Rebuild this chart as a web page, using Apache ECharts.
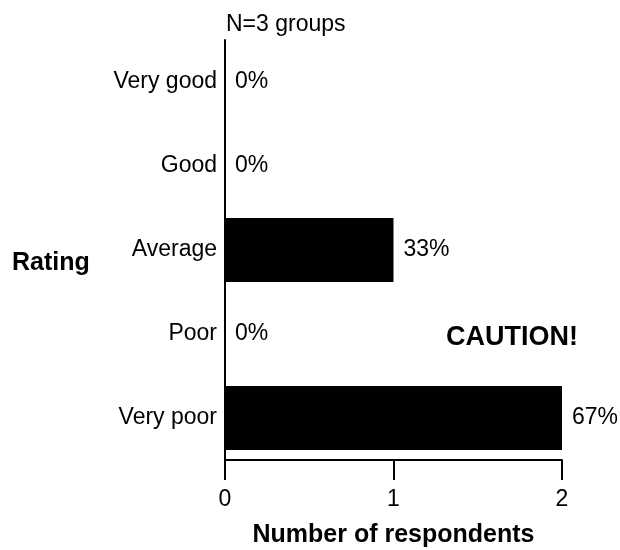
<!DOCTYPE html>
<html>
<head>
<meta charset="utf-8">
<script src="https://cdn.jsdelivr.net/npm/echarts@6/dist/echarts.min.js"></script>
<style>html,body{margin:0;padding:0;background:#fff;}#c{width:620px;height:550px;}</style>
</head>
<body>
<div id="c"></div>
<script>
// Categories listed bottom to top (ECharts category y-axis order)
const categories = ['Very poor', 'Poor', 'Average', 'Good', 'Very good'];
const counts = [2, 0, 1, 0, 0];
const percentLabels = ['67%', '0%', '33%', '0%', '0%'];
const xTicks = [0, 1, 2];
const noteText = 'N=3 groups';
const cautionText = 'CAUTION!';
const FONT = 'Liberation Sans, Arial, Helvetica, sans-serif';

const chart = echarts.init(document.getElementById('c'), null, {renderer: 'canvas'});
chart.setOption({
  animation: false,
  backgroundColor: '#ffffff',
  grid: {left: 225, right: 58, top: 40, bottom: 90, containLabel: false, outerBoundsMode: 'none'},
  xAxis: {
    type: 'value',
    min: xTicks[0], max: xTicks[xTicks.length - 1], interval: 1,
    name: 'Number of respondents',
    nameLocation: 'middle',
    nameGap: 63,
    nameTextStyle: {fontFamily: FONT, fontSize: 25, fontWeight: 'bold', color: '#000'},
    axisLine: {show: true, lineStyle: {color: '#000', width: 2}},
    axisTick: {show: true, length: 20, lineStyle: {color: '#000', width: 2}},
    axisLabel: {fontFamily: FONT, fontSize: 23, color: '#000', margin: 28},
    splitLine: {show: false}
  },
  yAxis: {
    type: 'category',
    data: categories,
    axisLine: {show: true, lineStyle: {color: '#000', width: 2}},
    axisTick: {show: false},
    axisLabel: {fontFamily: FONT, fontSize: 23, color: '#000', margin: 8}
  },
  series: [{
    type: 'bar',
    data: counts,
    barCategoryGap: '24%',
    itemStyle: {color: '#000'},
    label: {
      show: true,
      position: 'right',
      distance: 10,
      fontFamily: FONT, fontSize: 23, color: '#000',
      formatter: p => percentLabels[p.dataIndex]
    }
  }],
  graphic: [
    {type: 'text', left: 226, top: 13, style: {text: noteText, font: '23px ' + FONT, fill: '#000'}},
    {type: 'text', left: 12, top: 251, style: {text: 'Rating', font: 'bold 25px ' + FONT, fill: '#000'}},
    {type: 'text', left: 446, top: 324, style: {text: cautionText, font: 'bold 27px ' + FONT, fill: '#000'}}
  ]
});
</script>
</body>
</html>
